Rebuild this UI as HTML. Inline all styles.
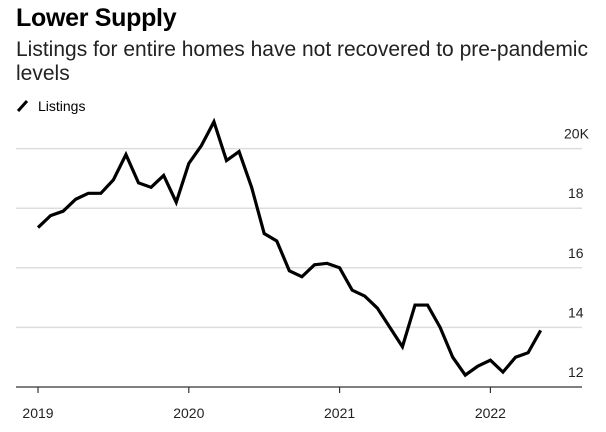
<!DOCTYPE html>
<html><head><meta charset="utf-8"><style>
body{margin:0;background:#fff;width:606px;height:432px;overflow:hidden;font-family:"Liberation Sans",Arial,sans-serif;color:#000}
#title{position:absolute;left:16px;top:4px;font-size:25px;font-weight:bold;letter-spacing:-0.3px}
#sub{position:absolute;left:16px;top:38px;font-size:21px;line-height:24px;width:585px;color:#222}
svg{position:absolute;left:0;top:0}
</style></head><body>
<div id="title">Lower Supply</div>
<div id="sub">Listings for entire homes have not recovered to pre-pandemic levels</div>
<svg id="chart" width="606" height="432">
<g><line x1="18" y1="111" x2="27" y2="101" stroke="#000" stroke-width="3"/><text x="38" y="111" font-size="14" font-family="Liberation Sans, sans-serif">Listings</text></g>
</svg>
<script>
const yTicks=[12,14,16,18,20];
const yTickLabels=["12","14","16","18","20K"];
const xYears=[2019,2020,2021,2022];
const listings=[17.35,17.75,17.9,18.3,18.5,18.5,18.95,19.8,18.85,18.7,19.1,18.2,19.5,20.1,20.9,19.6,19.9,18.7,17.15,16.9,15.9,15.7,16.1,16.15,16.0,15.25,15.05,14.65,14.0,13.35,14.75,14.75,14.0,13.0,12.4,12.7,12.9,12.5,13.0,13.15,13.9];
const NS="http://www.w3.org/2000/svg";
const svg=document.getElementById('chart');
const x=m=>38+m*(150.8/12);
const y=v=>387-(v-12)*29.8;
function mk(t,a){const e=document.createElementNS(NS,t);for(const k in a)e.setAttribute(k,a[k]);svg.appendChild(e);return e;}
yTicks.forEach((v,i)=>{
  if(v>12){const g=mk('line',{x1:16,x2:582,y1:y(v),y2:y(v),stroke:'#ddd','stroke-width':1.5});
  
  }
  const t=mk('text',{x:i==4?564:568,y:y(v)-10,'font-size':14,fill:'#222','font-family':'Liberation Sans, sans-serif'});
  t.textContent=yTickLabels[i];
  
  
});
const ax=mk('line',{x1:16,x2:582,y1:387,y2:387,stroke:'#333','stroke-width':1.2});


xYears.forEach((yr,i)=>{
  const xx=x(i*12);
  const tk=mk('line',{x1:xx,x2:xx,y1:387,y2:393,stroke:'#333','stroke-width':1.2});
  
  
  const t=mk('text',{x:xx,y:418,'font-size':14,'text-anchor':'middle',fill:'#222','font-family':'Liberation Sans, sans-serif'});
  t.textContent=yr;
  
  
});
const p=mk('polyline',{points:listings.map((v,i)=>x(i)+','+y(v)).join(' '),fill:'none',stroke:'#000','stroke-width':3.2,'stroke-linejoin':'miter'});


</script>
</body></html>
